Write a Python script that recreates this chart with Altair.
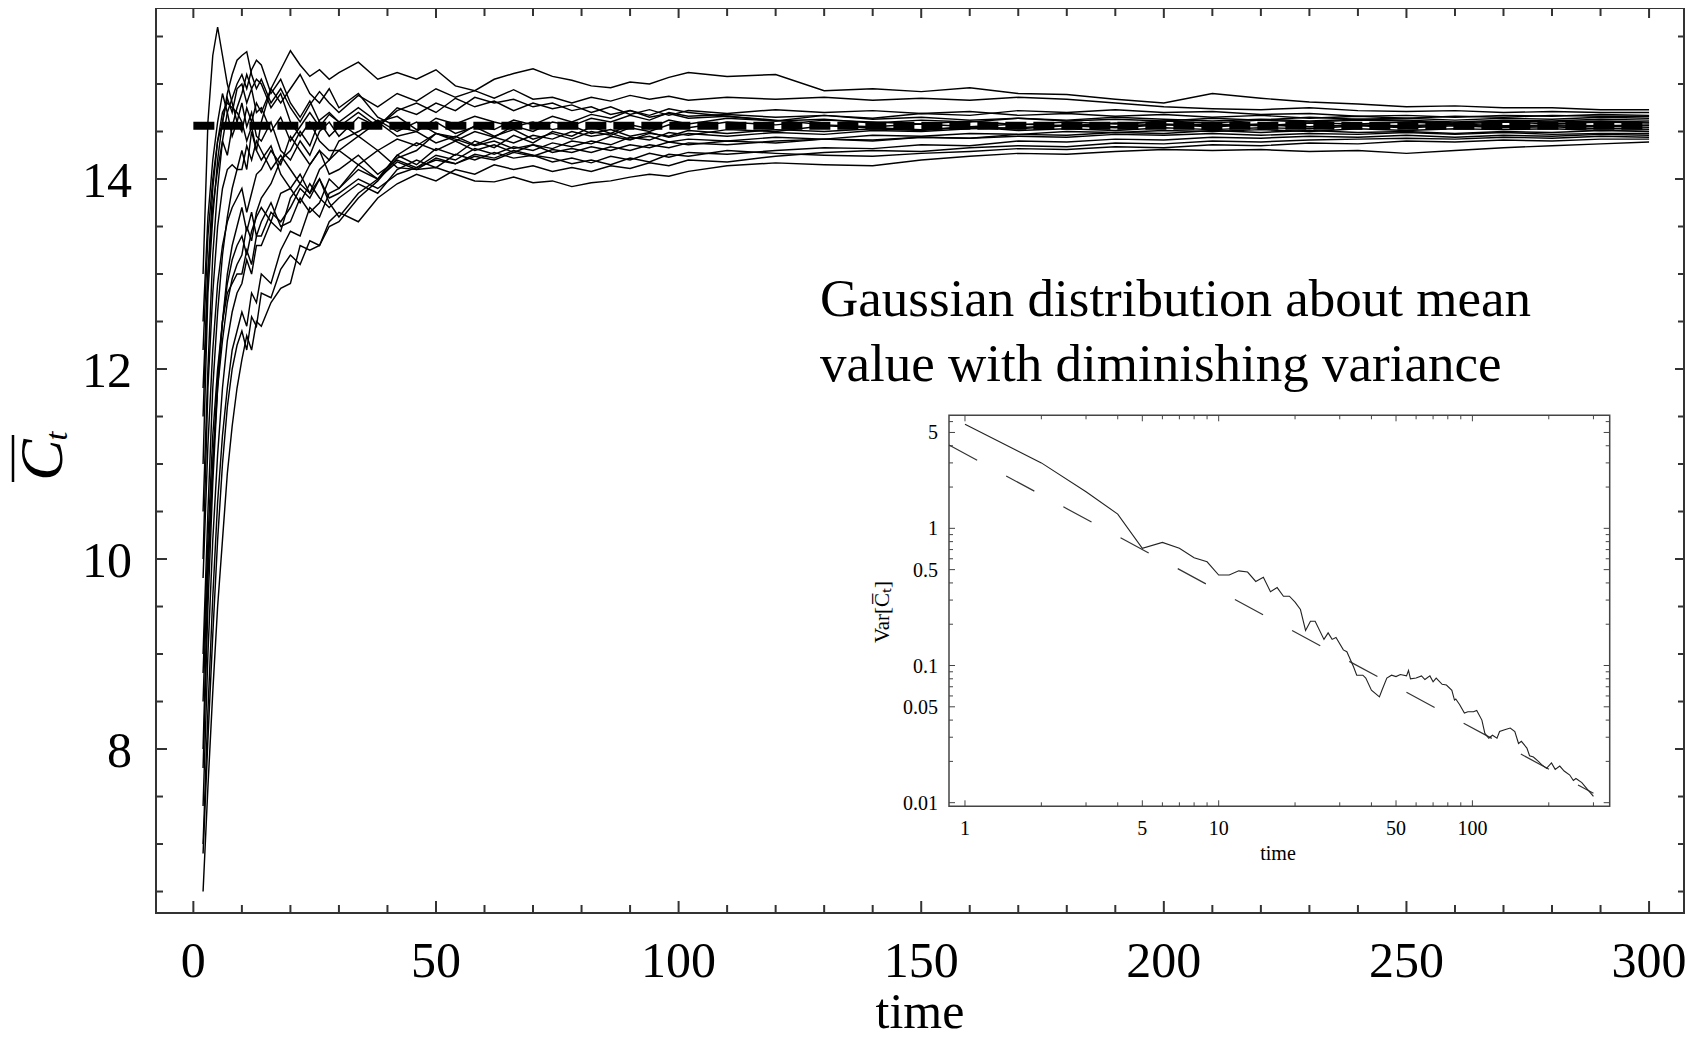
import altair as alt
import pandas as pd

# ---------------- main panel data ----------------
T = [2, 3, 4, 5, 6, 7, 8, 9, 10, 11, 12, 13, 14, 16, 18, 20, 22, 24, 26, 28, 30,
     34, 38, 42, 46, 50, 54, 58, 62, 66, 70, 74, 78, 82, 86, 90, 94, 98, 102,
     110, 120, 130, 140, 150, 160, 170, 180, 190, 200, 210, 220, 230, 240, 250,
     260, 270, 280, 290, 300]

run_A = [9.0,10.5,11.8,12.6,13.2,13.6,13.9,14.1,14.3,14.1,14.5,14.3,14.6, 14.95,15.15,15.35,15.2,15.08,15.15,15.05,15.12, 15.23,15.05,15.12,15.05,15.15,14.98,14.93,15.05,15.11,15.16,15.08,15.04,14.98,14.96,15.02,15.0,15.07,15.12, 15.08,15.10,14.93,14.95,14.92,14.96,14.90,14.89,14.84,14.80,14.90,14.85,14.81,14.79,14.76,14.77,14.75,14.75,14.73,14.73]
run_B = [11.0,12.8,13.6,14.2,14.6,14.9,15.1,15.25,15.3,15.34,15.1,14.95,15.05, 14.8,14.95,14.75,14.6,14.78,14.92,14.8,14.7, 14.88,14.76,14.9,14.82,14.95,14.86,14.93,14.85,14.94,14.84,14.86,14.80,14.86,14.82,14.88,14.84,14.87,14.83, 14.86,14.84,14.86,14.83,14.85,14.83,14.86,14.84,14.80,14.76,14.74,14.73,14.75,14.72,14.71,14.72,14.70,14.71,14.70,14.70]
run_C = [7.8,9.5,10.8,11.8,12.5,13.0,13.3,13.5,13.7,13.45,13.65,13.4,13.55, 13.75,13.5,13.55,13.8,13.65,13.75,14.0,13.9, 14.15,14.0,14.25,14.15,14.32,14.25,14.4,14.33,14.46,14.38,14.5,14.45,14.55,14.48,14.57,14.53,14.62,14.58, 14.64,14.61,14.67,14.64,14.69,14.67,14.72,14.70,14.73,14.70,14.71,14.68,14.69,14.66,14.67,14.65,14.67,14.66,14.68,14.67]
run_D = [10.5,12.0,13.2,13.9,14.4,14.7,14.85,15.0,15.1,14.95,15.15,15.25,15.2, 14.9,15.05,14.8,14.65,14.82,14.6,14.45,14.55, 14.7,14.55,14.72,14.8,14.7,14.85,14.76,14.82,14.72,14.8,14.74,14.78,14.7,14.76,14.68,14.73,14.67,14.72, 14.69,14.73,14.70,14.72,14.69,14.71,14.67,14.69,14.66,14.68,14.65,14.67,14.64,14.66,14.64,14.66,14.65,14.67,14.66,14.66]
run_E = [6.5,7.6,8.6,9.5,10.2,10.9,11.4,11.8,12.1,12.35,12.2,12.5,12.45, 12.7,12.85,12.9,13.3,13.25,13.3,13.5,13.55, 13.8,13.98,14.22,14.3,14.48,14.4,14.5,14.44,14.56,14.5,14.6,14.56,14.64,14.6,14.67,14.62,14.7,14.66, 14.68,14.65,14.67,14.63,14.65,14.62,14.64,14.61,14.63,14.61,14.64,14.62,14.65,14.63,14.64,14.62,14.64,14.63,14.65,14.64]
run_F = [12.5,13.6,14.2,14.6,14.9,14.7,14.45,14.6,14.8,14.55,14.7,14.45,14.4, 14.6,14.3,14.2,14.4,14.25,14.5,14.6,14.45, 14.65,14.55,14.75,14.68,14.8,14.72,14.86,14.8,14.84,14.76,14.8,14.72,14.76,14.68,14.72,14.65,14.69,14.64, 14.66,14.61,14.63,14.59,14.62,14.60,14.64,14.62,14.65,14.63,14.61,14.63,14.61,14.63,14.62,14.60,14.62,14.61,14.63,14.62]
run_G = [8.5,10.0,11.0,11.8,12.3,12.7,12.95,13.1,13.2,13.5,13.35,13.65,13.8, 13.95,14.2,14.3,14.5,14.35,14.62,14.7,14.6, 14.75,14.6,14.66,14.52,14.6,14.48,14.55,14.45,14.52,14.42,14.48,14.42,14.5,14.46,14.54,14.5,14.57,14.54, 14.6,14.57,14.62,14.6,14.58,14.61,14.57,14.6,14.58,14.61,14.59,14.62,14.60,14.62,14.61,14.59,14.61,14.60,14.61,14.60]
run_H = [11.8,13.0,13.7,14.1,14.4,14.25,14.55,14.75,14.9,15.1,14.95,15.05,15.0, 14.75,14.9,14.6,14.45,14.6,14.4,14.3,14.3, 14.45,14.3,14.42,14.35,14.48,14.44,14.56,14.52,14.62,14.57,14.66,14.6,14.68,14.64,14.72,14.67,14.74,14.7, 14.66,14.62,14.57,14.55,14.58,14.55,14.58,14.56,14.59,14.57,14.58,14.56,14.59,14.58,14.60,14.58,14.60,14.58,14.60,14.59]
run_I = [7.0,8.4,9.6,10.6,11.3,11.8,12.2,12.4,12.6,12.45,12.8,12.7,13.0, 12.9,13.25,13.45,13.4,13.7,13.6,13.85,13.9, 14.1,14.0,14.25,14.38,14.3,14.4,14.3,14.36,14.28,14.36,14.32,14.4,14.37,14.45,14.41,14.48,14.45,14.51, 14.48,14.52,14.50,14.53,14.51,14.55,14.53,14.56,14.54,14.57,14.55,14.57,14.55,14.57,14.56,14.58,14.56,14.57,14.56,14.57]
run_J = [13.0,14.6,15.3,15.6,15.3,15.0,14.8,14.6,14.5,14.75,14.6,14.8,14.7, 14.95,14.8,14.95,15.1,14.9,14.8,14.95,14.75, 14.9,14.65,14.55,14.5,14.64,14.58,14.66,14.6,14.55,14.6,14.52,14.56,14.48,14.52,14.45,14.49,14.44,14.48, 14.45,14.49,14.47,14.51,14.50,14.53,14.54,14.57,14.55,14.58,14.56,14.58,14.55,14.57,14.55,14.57,14.55,14.56,14.55,14.56]
run_K = [9.8,11.2,12.2,12.9,13.3,13.55,13.7,13.8,13.9,13.65,13.85,14.05,14.1, 14.3,14.15,14.45,14.3,14.15,14.3,14.05,14.1, 14.25,14.05,14.2,14.12,14.25,14.2,14.32,14.26,14.34,14.3,14.38,14.34,14.4,14.36,14.44,14.41,14.49,14.46, 14.52,14.50,14.56,14.54,14.52,14.55,14.51,14.53,14.51,14.54,14.52,14.54,14.53,14.56,14.54,14.56,14.54,14.55,14.53,14.54]
run_L = [12.2,13.4,14.0,14.4,14.6,14.85,14.7,14.95,15.0,14.8,14.95,14.7,14.75, 14.5,14.65,14.4,14.55,14.7,14.55,14.68,14.6, 14.45,14.6,14.45,14.5,14.38,14.45,14.36,14.44,14.38,14.46,14.42,14.5,14.45,14.48,14.42,14.45,14.39,14.42, 14.40,14.44,14.42,14.46,14.45,14.48,14.47,14.50,14.49,14.51,14.50,14.52,14.50,14.53,14.51,14.53,14.52,14.53,14.51,14.52]
run_M = [7.4,9.0,10.2,11.1,11.8,12.3,12.6,12.8,12.9,13.15,13.0,13.3,13.3, 13.55,13.45,13.8,13.95,13.85,14.1,14.2,14.3, 14.15,14.3,14.12,14.1,14.22,14.16,14.24,14.2,14.28,14.24,14.31,14.28,14.34,14.3,14.36,14.33,14.39,14.36, 14.40,14.38,14.42,14.40,14.44,14.43,14.47,14.46,14.49,14.48,14.51,14.49,14.51,14.49,14.50,14.48,14.50,14.49,14.51,14.50]
run_N = [10.0,11.8,12.8,13.5,13.9,14.1,14.15,14.1,14.1,14.35,14.2,14.4,14.3, 14.1,14.25,14.1,13.95,14.15,14.3,14.2,14.4, 14.5,14.62,14.5,14.6,14.48,14.42,14.35,14.4,14.32,14.36,14.28,14.32,14.28,14.34,14.3,14.36,14.33,14.38, 14.36,14.40,14.42,14.41,14.44,14.43,14.45,14.44,14.47,14.46,14.48,14.46,14.48,14.47,14.49,14.47,14.49,14.47,14.48,14.48]
run_O = [8.0,9.8,11.0,11.9,12.5,12.9,13.15,13.3,13.4,13.2,13.45,13.6,13.7, 13.55,13.85,13.9,13.75,13.95,13.8,13.7,13.8, 13.95,13.85,14.1,14.2,14.12,14.26,14.2,14.28,14.22,14.25,14.18,14.22,14.17,14.24,14.2,14.27,14.23,14.28, 14.26,14.30,14.33,14.32,14.36,14.35,14.40,14.39,14.42,14.41,14.44,14.43,14.45,14.44,14.46,14.44,14.46,14.45,14.47,14.46]
run_P = [6.9,8.1,9.2,10.2,11.0,11.6,12.0,12.25,12.4,12.2,12.55,12.45,12.8, 12.75,13.05,13.2,13.1,13.35,13.3,13.55,13.65, 13.55,13.8,13.95,14.05,13.98,14.1,14.05,14.15,14.1,14.14,14.08,14.12,14.08,14.14,14.11,14.17,14.14,14.2, 14.18,14.24,14.28,14.30,14.29,14.33,14.35,14.34,14.38,14.37,14.40,14.39,14.41,14.42,14.43,14.42,14.44,14.43,14.45,14.44]
run_Q = [11.5,13.0,13.9,14.4,14.7,14.8,14.75,14.7,14.6,14.4,14.55,14.3,14.2, 14.35,14.05,13.9,14.05,13.85,14.0,13.8,13.85, 14.0,13.9,14.05,14.12,14.2,14.16,14.26,14.22,14.3,14.25,14.22,14.16,14.2,14.15,14.22,14.18,14.26,14.24, 14.30,14.27,14.25,14.24,14.27,14.29,14.32,14.31,14.34,14.33,14.36,14.35,14.38,14.37,14.40,14.39,14.41,14.40,14.42,14.42]
run_R = [8.8,10.2,11.3,12.0,12.5,12.8,12.9,13.0,13.0,13.25,13.1,13.4,13.4, 13.65,13.55,13.7,13.9,13.8,14.0,13.75,13.6, 13.85,14.0,14.18,14.1,14.12,14.05,13.98,13.97,14.02,13.96,13.98,13.92,13.96,13.98,14.02,14.05,14.03,14.08, 14.14,14.17,14.15,14.14,14.20,14.24,14.27,14.26,14.29,14.31,14.30,14.31,14.29,14.30,14.27,14.30,14.33,14.35,14.37,14.39]

runs = {"A": run_A, "B": run_B, "C": run_C, "D": run_D, "E": run_E, "F": run_F,
        "G": run_G, "H": run_H, "I": run_I, "J": run_J, "K": run_K, "L": run_L,
        "M": run_M, "N": run_N, "O": run_O, "P": run_P, "Q": run_Q, "R": run_R}

mean_t = [0, 300]
mean_v = [14.56, 14.56]

main_x_major = [0, 50, 100, 150, 200, 250, 300]
main_x_labels = ["0", "50", "100", "150", "200", "250", "300"]
main_x_minor = [10, 20, 30, 40, 60, 70, 80, 90, 110, 120, 130, 140, 160, 170, 180,
                190, 210, 220, 230, 240, 260, 270, 280, 290]
main_y_major = [8, 10, 12, 14]
main_y_labels = ["8", "10", "12", "14"]
main_y_minor = [6.5, 7, 7.5, 8.5, 9, 9.5, 10.5, 11, 11.5, 12.5, 13, 13.5, 14.5, 15, 15.5]

# ---------------- inset data ----------------
inset_t = [1,2,3,4,5,6,7,8,9,10,11,12,13,14,15,16,17,18,19,20,21,22,23,24,26,27,28,29,
           31,32,34,35,37,38,40,43,44,46,48,50,52,55,56,57,60,63,65,68,70,72,76,79,83,
           85,86,89,93,96,101,104,109,112,116,120,125,128,134,141,147,152,156,164,168,
           174,182,187,196,205,212,221,230,242,250,256,270,282,292,300]
inset_var = [5.75,3.0,1.85,1.27,0.715,0.79,0.715,0.61,0.57,0.457,0.457,0.49,0.48,0.41,0.44,
             0.345,0.37,0.32,0.32,0.29,0.256,0.18,0.21,0.21,0.155,0.173,0.155,0.16,0.13,0.126,
             0.098,0.085,0.085,0.081,0.066,0.059,0.066,0.081,0.085,0.083,0.086,0.084,0.092,
             0.080,0.081,0.084,0.079,0.084,0.076,0.081,0.073,0.072,0.066,0.056,0.057,0.052,
             0.045,0.046,0.046,0.047,0.040,0.032,0.0295,0.031,0.0295,0.033,0.034,0.035,0.033,
             0.027,0.028,0.025,0.022,0.0215,0.020,0.019,0.0178,0.0195,0.0175,0.0185,0.017,
             0.0159,0.0145,0.015,0.014,0.0127,0.0118,0.0111]
inset_ref_t = [0.865, 300]
inset_ref_v = [4.05, 0.0117]

inset_x_major = [1, 5, 10, 50, 100]
inset_x_labels = ["1", "5", "10", "50", "100"]
inset_x_minor = [2, 3, 4, 6, 7, 8, 9, 20, 30, 40, 60, 70, 80, 90, 200, 300]
inset_y_major = [0.01, 0.05, 0.1, 0.5, 1, 5]
inset_y_labels = ["0.01", "0.05", "0.1", "0.5", "1", "5"]
inset_y_minor = [0.02, 0.03, 0.04, 0.06, 0.07, 0.08, 0.09, 0.2, 0.3, 0.4, 0.6, 0.7,
                 0.8, 0.9, 2, 3, 4, 6]
inset_box = {"x0": [0.865], "x1": [347.7], "y0": [0.00941], "y1": [6.67]}

# ---------------- layout ----------------
W, H = 1528, 905
FONT = "Liberation Serif"
AX = "#333333"

main_x = alt.Scale(domain=[-7.7, 307.2], nice=False, zero=False)
main_y = alt.Scale(domain=[6.274, 15.80], nice=False, zero=False)
inset_x = alt.Scale(type="log", domain=[0.865, 347.7], range=[793, 1453.7], nice=False)
inset_y = alt.Scale(type="log", domain=[0.00941, 6.67], range=[798.3, 407.3], nice=False)

rows = []
for name, vals in runs.items():
    for t, v in zip(T, vals):
        rows.append({"run": name, "t": t, "v": v})
traj_df = pd.DataFrame(rows)

layers = []

layers.append(
    alt.Chart(traj_df).mark_line(color="black", strokeWidth=1.45, clip=True).encode(
        x=alt.X("t:Q", scale=main_x, axis=None),
        y=alt.Y("v:Q", scale=main_y, axis=None),
        detail="run:N",
    )
)

layers.append(
    alt.Chart(pd.DataFrame({"t": mean_t, "v": mean_v})).mark_line(
        color="black", strokeWidth=8, strokeDash=[21, 7], strokeCap="butt"
    ).encode(
        x=alt.X("t:Q", scale=main_x, axis=None),
        y=alt.Y("v:Q", scale=main_y, axis=None),
    )
)


def xticks(vals, scale, y0, y1, width=2, color=AX):
    return alt.Chart(pd.DataFrame({"v": vals})).mark_rule(color=color, strokeWidth=width).encode(
        x=alt.X("v:Q", scale=scale, axis=None), y=alt.value(y0), y2=alt.value(y1)
    )


def yticks(vals, scale, x0, x1, width=2, color=AX):
    return alt.Chart(pd.DataFrame({"v": vals})).mark_rule(color=color, strokeWidth=width).encode(
        y=alt.Y("v:Q", scale=scale, axis=None), x=alt.value(x0), x2=alt.value(x1)
    )


# main ticks (inward, all four sides)
layers += [
    xticks(main_x_major, main_x, H, H - 12),
    xticks(main_x_minor, main_x, H, H - 8),
    xticks(main_x_major, main_x, 0, 10),
    xticks(main_x_minor, main_x, 0, 8),
    yticks(main_y_major, main_y, 0, 11),
    yticks(main_y_minor, main_y, 0, 7),
    yticks(main_y_major, main_y, W, W - 9),
    yticks(main_y_minor, main_y, W, W - 6),
]

# main tick labels
layers.append(
    alt.Chart(pd.DataFrame({"v": main_x_major, "lab": main_x_labels})).mark_text(
        font=FONT, fontSize=50, color="black", align="center", baseline="alphabetic"
    ).encode(x=alt.X("v:Q", scale=main_x, axis=None), y=alt.value(969), text="lab:N")
)
layers.append(
    alt.Chart(pd.DataFrame({"v": main_y_major, "lab": main_y_labels})).mark_text(
        font=FONT, fontSize=50, color="black", align="right", baseline="alphabetic", dy=18
    ).encode(y=alt.Y("v:Q", scale=main_y, axis=None), x=alt.value(-24), text="lab:N")
)

# main axis titles
layers.append(
    alt.Chart(pd.DataFrame({"s": ["time"]})).mark_text(
        font=FONT, fontSize=50, color="black", align="center", baseline="alphabetic"
    ).encode(x=alt.value(W / 2), y=alt.value(1020), text="s:N")
)
layers.append(
    alt.Chart(pd.DataFrame({"s": ["C"]})).mark_text(
        font=FONT, fontSize=62, fontStyle="italic", color="black", align="center",
        baseline="middle", angle=270
    ).encode(x=alt.value(-113), y=alt.value(452), text="s:N")
)
layers.append(
    alt.Chart(pd.DataFrame({"s": ["t"]})).mark_text(
        font=FONT, fontSize=32, fontStyle="italic", color="black", align="center",
        baseline="middle", angle=270
    ).encode(x=alt.value(-99), y=alt.value(428), text="s:N")
)
layers.append(
    alt.Chart(pd.DataFrame({"s": ["bar"]})).mark_rule(color="black", strokeWidth=2.5).encode(
        x=alt.value(-143), y=alt.value(427), y2=alt.value(474)
    )
)

# annotation
layers.append(
    alt.Chart(pd.DataFrame({"s": ["Gaussian distribution about mean"]})).mark_text(
        font=FONT, fontSize=53, color="black", align="left", baseline="alphabetic"
    ).encode(x=alt.value(664), y=alt.value(308), text="s:N")
)
layers.append(
    alt.Chart(pd.DataFrame({"s": ["value with diminishing variance"]})).mark_text(
        font=FONT, fontSize=53, color="black", align="left", baseline="alphabetic"
    ).encode(x=alt.value(664), y=alt.value(373), text="s:N")
)

# ---------------- inset ----------------
layers.append(
    alt.Chart(pd.DataFrame(inset_box)).mark_rect(fill="white", stroke="#444444", strokeWidth=1.5).encode(
        x=alt.X("x0:Q", scale=inset_x, axis=None), x2="x1:Q",
        y=alt.Y("y0:Q", scale=inset_y, axis=None), y2="y1:Q",
    )
)
IB, IT, IL, IR = 798.3, 407.3, 793, 1453.7
layers += [
    xticks(inset_x_major, inset_x, IB, IB - 6, 1, "#444444"),
    xticks(inset_x_minor, inset_x, IB, IB - 4, 1, "#444444"),
    xticks(inset_x_major, inset_x, IT, IT + 6, 1, "#444444"),
    xticks(inset_x_minor, inset_x, IT, IT + 4, 1, "#444444"),
    yticks(inset_y_major, inset_y, IL, IL + 6, 1, "#444444"),
    yticks(inset_y_minor, inset_y, IL, IL + 4, 1, "#444444"),
    yticks(inset_y_major, inset_y, IR, IR - 6, 1, "#444444"),
    yticks(inset_y_minor, inset_y, IR, IR - 4, 1, "#444444"),
]
layers.append(
    alt.Chart(pd.DataFrame({"v": inset_x_major, "lab": inset_x_labels})).mark_text(
        font=FONT, fontSize=20, color="black", align="center", baseline="alphabetic"
    ).encode(x=alt.X("v:Q", scale=inset_x, axis=None), y=alt.value(827), text="lab:N")
)
layers.append(
    alt.Chart(pd.DataFrame({"v": inset_y_major, "lab": inset_y_labels})).mark_text(
        font=FONT, fontSize=20, color="black", align="right", baseline="alphabetic", dy=7
    ).encode(y=alt.Y("v:Q", scale=inset_y, axis=None), x=alt.value(782), text="lab:N")
)
layers.append(
    alt.Chart(pd.DataFrame({"s": ["time"]})).mark_text(
        font=FONT, fontSize=20, color="black", align="center", baseline="alphabetic"
    ).encode(x=alt.value(1122), y=alt.value(852), text="s:N")
)
layers.append(
    alt.Chart(pd.DataFrame({"s": ["Var[C\u0305\u209c]"]})).mark_text(
        font=FONT, fontSize=21, color="black", align="center", baseline="middle", angle=270
    ).encode(x=alt.value(727), y=alt.value(604), text="s:N")
)
layers.append(
    alt.Chart(pd.DataFrame({"t": inset_ref_t, "v": inset_ref_v})).mark_line(
        color="#333333", strokeWidth=1.2, strokeDash=[32, 33]
    ).encode(
        x=alt.X("t:Q", scale=inset_x, axis=None),
        y=alt.Y("v:Q", scale=inset_y, axis=None),
    )
)
layers.append(
    alt.Chart(pd.DataFrame({"t": inset_t, "v": inset_var})).mark_line(
        color="#222222", strokeWidth=1.1
    ).encode(
        x=alt.X("t:Q", scale=inset_x, axis=None),
        y=alt.Y("v:Q", scale=inset_y, axis=None),
    )
)

chart = alt.layer(*layers).resolve_scale(x="independent", y="independent").properties(
    width=W, height=H,
    padding={"left": 148, "top": 0, "right": 5, "bottom": 126},
    autosize=alt.AutoSizeParams(type="none"),
    background="white",
).configure_view(stroke=AX, strokeWidth=2)

chart.save("out.html", embed_options={"renderer": "svg", "actions": False})
